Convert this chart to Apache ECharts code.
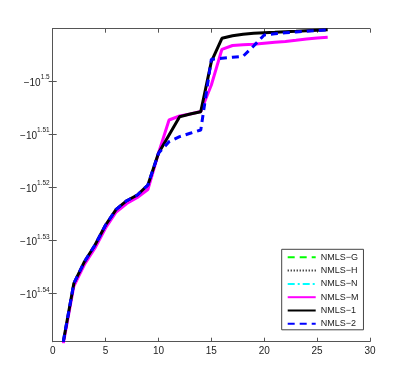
<!DOCTYPE html>
<html>
<head>
<meta charset="utf-8">
<script src="https://cdn.jsdelivr.net/npm/echarts@6/dist/echarts.min.js"></script>
<style>
  html, body { margin: 0; padding: 0; background: #fff; }
  #container { width: 409px; height: 385px; }
</style>
</head>
<body>
<div id="container"></div>
<script>
// iteration index
var iters = [1, 2, 3, 4, 5, 6, 7, 8, 9, 10, 11, 12, 13, 14, 15, 16, 17, 18, 19, 20, 21, 22, 23, 24, 25, 26];

// values are plotted as -10^e, these arrays hold the exponent e
var expM = [1.5495, 1.53862, 1.53457, 1.53146, 1.52769, 1.52468, 1.52308, 1.52195, 1.52044, 1.51362,
    1.50735, 1.50659, 1.50622, 1.50575, 1.50075, 1.49403, 1.49331, 1.49318, 1.49309, 1.49290,
    1.49271, 1.49256, 1.49233, 1.49209, 1.49190, 1.49177];
var exp1 = [1.5491, 1.53811, 1.53404, 1.53090, 1.52713, 1.52417, 1.52255, 1.52148, 1.51959, 1.51362,
    1.51017, 1.50673, 1.50622, 1.50578, 1.49636, 1.49196, 1.49147, 1.49118, 1.49101, 1.49090,
    1.49081, 1.49071, 1.49062, 1.49052, 1.49043, 1.49034];
var exp2 = [1.5491, 1.53811, 1.53404, 1.53090, 1.52713, 1.52417, 1.52255, 1.52148, 1.51959, 1.51362,
    1.51144, 1.51049, 1.50985, 1.50923, 1.49591, 1.49572, 1.49553, 1.49535, 1.49341, 1.49133,
    1.49111, 1.49092, 1.49077, 1.49062, 1.49049, 1.49036];

var xTicks = [0, 5, 10, 15, 20, 25, 30];
var yTicks = [1.5, 1.51, 1.52, 1.53, 1.54];
var yTickLabels = ['1.5', '1.51', '1.52', '1.53', '1.54'];

var pairs = function (ys) {
    return iters.map(function (x, i) { return [x, ys[i]]; });
};

var axisColor = '#555';
var font = 'Liberation Sans, Arial, sans-serif';

var chart = echarts.init(document.getElementById('container'));

var baseLine = function (name, data, color, width, type, z) {
    return {
        name: name,
        type: 'line',
        data: data,
        symbol: 'none',
        z: z,
        xAxisIndex: 0,
        yAxisIndex: 0,
        animation: false,
        lineStyle: { color: color, width: width, type: type },
        itemStyle: { color: color }
    };
};

var option = {
    backgroundColor: '#fff',
    animation: false,
    grid: { left: 52.7, right: 39, top: 28.7, bottom: 43.3 },
    xAxis: [{
        type: 'value', min: 0, max: 30, interval: 5,
        axisLine: { show: true, lineStyle: { color: axisColor, width: 1 } },
        axisTick: { show: true, inside: true, length: 4, lineStyle: { color: axisColor } },
        splitLine: { show: false },
        axisLabel: { margin: 5, color: '#222', fontFamily: font, fontSize: 10 }
    }, {
        type: 'value', min: 0, max: 30, interval: 5, position: 'top',
        axisLine: { show: true, lineStyle: { color: axisColor, width: 1 } },
        axisTick: { show: true, inside: true, length: 4, lineStyle: { color: axisColor } },
        splitLine: { show: false },
        axisLabel: { show: false }
    }],
    yAxis: [{
        type: 'value', inverse: true, min: 1.49015, max: 1.54911,
        axisLine: { show: true, lineStyle: { color: axisColor, width: 1 } },
        axisTick: { show: true, inside: true, length: 4, customValues: yTicks, lineStyle: { color: axisColor } },
        splitLine: { show: false },
        axisLabel: {
            customValues: yTicks,
            margin: 3,
            formatter: function (v) {
                var i = yTicks.indexOf(v);
                var s = i >= 0 ? yTickLabels[i] : String(v);
                return '{b|\u221210}{s|' + s + '}';
            },
            rich: {
                b: { fontSize: 10, fontFamily: font, color: '#222', lineHeight: 14, verticalAlign: 'bottom' },
                s: { fontSize: 6.5, fontFamily: font, color: '#222', verticalAlign: 'top' }
            }
        }
    }, {
        type: 'value', inverse: true, min: 1.49015, max: 1.54911, position: 'right',
        axisLine: { show: true, lineStyle: { color: axisColor, width: 1 } },
        axisTick: { show: true, inside: true, length: 4, customValues: yTicks, lineStyle: { color: axisColor } },
        splitLine: { show: false },
        axisLabel: { show: false }
    }],
    legend: {
        orient: 'vertical',
        left: 281.7,
        top: 249.3,
        padding: [3, 5, 1, 5],
        itemWidth: 28,
        itemHeight: 10,
        itemGap: 3.3,
        backgroundColor: '#fff',
        borderColor: '#444',
        borderWidth: 1,
        borderRadius: 0,
        itemStyle: { opacity: 0 },
        textStyle: { fontFamily: font, fontSize: 9, color: '#222', lineHeight: 10 },
        data: ['NMLS\u2212G', 'NMLS\u2212H', 'NMLS\u2212N', 'NMLS\u2212M', 'NMLS\u22121', 'NMLS\u22122']
    },
    series: [
        baseLine('NMLS\u2212G', [], '#00ff00', 3, [7, 5], 1),
        baseLine('NMLS\u2212H', [], '#000000', 1, [1, 2], 1),
        baseLine('NMLS\u2212N', [], '#00ffff', 3, [7, 3, 2, 3], 1),
        baseLine('NMLS\u2212M', pairs(expM), '#ff00ff', 3, 'solid', 2),
        baseLine('NMLS\u22121', pairs(exp1), '#000000', 3, 'solid', 3),
        baseLine('NMLS\u22122', pairs(exp2), '#0000ff', 3, [7, 5], 4)
    ]
};

chart.setOption(option);
</script>
</body>
</html>
